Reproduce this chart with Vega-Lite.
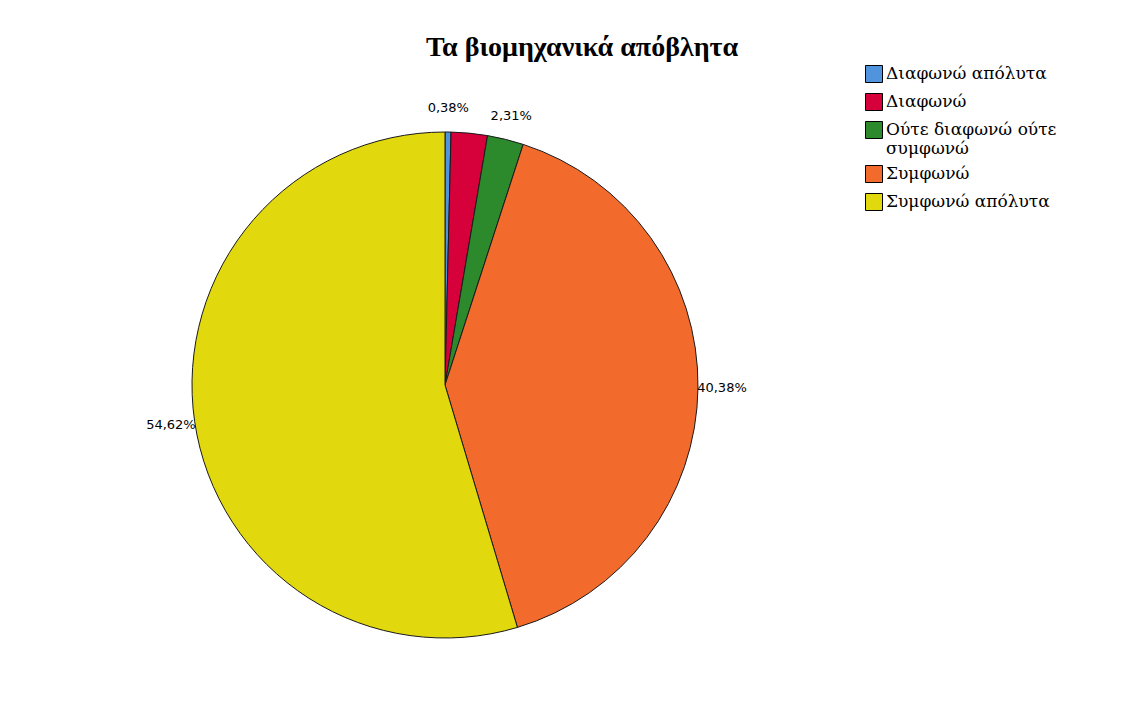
{
  "$schema": "https://vega.github.io/schema/vega-lite/v6.json",
  "autosize": {"type": "none"},
  "width": 506,
  "height": 506,
  "padding": {"left": 192, "top": 132, "right": 447, "bottom": 75},
  "background": "white",
  "config": {
    "view": {"stroke": null},
    "locale": {"number": {"decimal": ",", "thousands": ".", "grouping": [3], "currency": ["", " €"]}}
  },
  "title": {
    "text": "Τα βιομηχανικά απόβλητα",
    "font": "Liberation Serif",
    "fontSize": 28,
    "fontWeight": "bold",
    "color": "black",
    "anchor": "middle",
    "dx": 137,
    "offset": 3
  },
  "data": {
    "values": [
      {"category": "Διαφωνώ απόλυτα", "value": 0.0038},
      {"category": "Διαφωνώ", "value": 0.0231},
      {"category": "Ούτε διαφωνώ ούτε συμφωνώ", "value": 0.0231},
      {"category": "Συμφωνώ", "value": 0.4038},
      {"category": "Συμφωνώ απόλυτα", "value": 0.5462}
    ]
  },
  "encoding": {
    "theta": {"field": "value", "type": "quantitative", "stack": true},
    "order": {"field": "value", "type": "quantitative", "sort": "ascending"}
  },
  "layer": [
    {
      "mark": {"type": "arc", "outerRadius": 253, "stroke": "#1a1a1a", "strokeWidth": 1},
      "encoding": {
        "color": {
          "field": "category",
          "type": "nominal",
          "scale": {
            "domain": ["Διαφωνώ απόλυτα", "Διαφωνώ", "Ούτε διαφωνώ ούτε συμφωνώ", "Συμφωνώ", "Συμφωνώ απόλυτα"],
            "range": ["#4F94DC", "#D6003A", "#2C8A2C", "#F26A2C", "#E2D80E"]
          },
          "legend": {
            "title": null,
            "orient": "none",
            "legendX": 673,
            "legendY": -67,
            "symbolType": "square",
            "symbolSize": 289,
            "symbolStrokeColor": "black",
            "symbolStrokeWidth": 1,
            "symbolOpacity": 1,
            "labelFont": "DejaVu Serif",
            "labelFontSize": 17,
            "labelColor": "black",
            "labelLimit": 400,
            "labelOffset": 3,
            "rowPadding": 6,
            "labelExpr": "datum.label == 'Ούτε διαφωνώ ούτε συμφωνώ' ? ['Ούτε διαφωνώ ούτε', 'συμφωνώ'] : datum.label"
          }
        }
      }
    },
    {
      "mark": {"type": "text", "radius": 277, "font": "DejaVu Sans", "fontSize": 13, "color": "black"},
      "encoding": {
        "text": {
          "condition": {"test": "datum.category === 'Διαφωνώ'", "value": ""},
          "field": "value",
          "type": "quantitative",
          "format": ".2%"
        }
      }
    }
  ]
}
